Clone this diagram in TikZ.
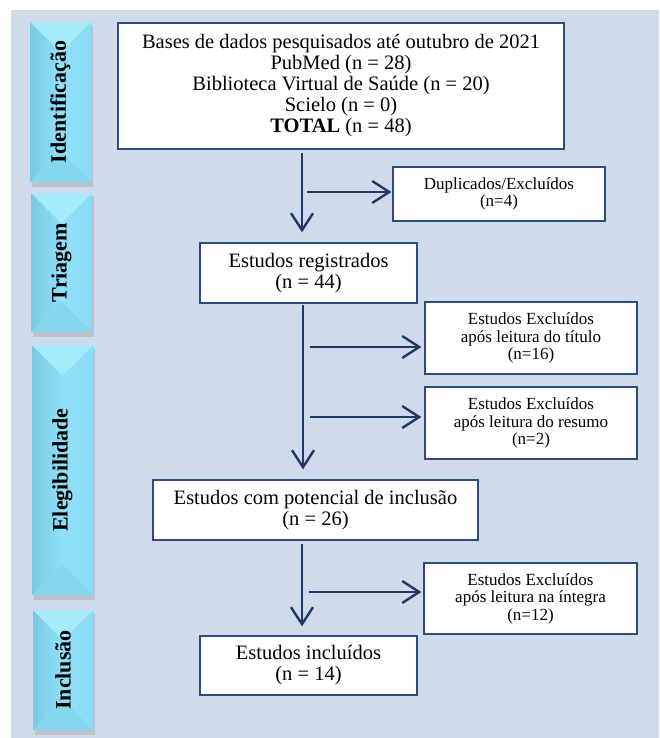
\documentclass[tikz,border=0pt]{standalone}
\usepackage{fontspec}
\setmainfont{Liberation Serif}
\usetikzlibrary{arrows.meta}
\definecolor{bgblue}{HTML}{CFDBEB}
\definecolor{navy}{HTML}{1F3864}
\definecolor{boxline}{HTML}{2F4B7C}
\definecolor{tabmain}{HTML}{8FE0F8}
\definecolor{tabtop}{HTML}{A6EBFC}
\definecolor{tabbot}{HTML}{86D6EE}
\definecolor{tabside}{HTML}{7AC9E4}
\tikzset{
  bigbox/.style={draw=boxline, line width=1.2pt, fill=white, align=center, inner sep=0pt,
    font=\fontsize{20.5}{21}\selectfont},
  smallbox/.style={draw=boxline, line width=1.2pt, fill=white, align=center, inner sep=0pt,
    font=\fontsize{17}{17.5}\selectfont},
  arr/.style={draw=navy, line width=2.4pt, -{Straight Barb[length=17pt,width=22pt,line width=2.4pt]}},
  tablabel/.style={rotate=90, font=\bfseries\fontsize{22}{24}\selectfont, text=black}
}
\newcommand{\phasetab}[5]{% name, x1, y1, x2, y2
  \fill[black!40, opacity=0.35] (#2+1.5,#3+3) rectangle (#4+1.5,#5+4.5);
  \fill[tabmain] (#2,#3) rectangle (#4,#5);
  \shade[left color=tabside, right color=tabmain] (#2,#3) -- ({(#2+#4)/2},{#3+(#4-#2)/2}) -- ({(#2+#4)/2},{#5-(#4-#2)/2}) -- (#2,#5) -- cycle;
  \shade[left color=tabmain, right color=tabmain!85!tabside] (#4,#3) -- ({(#2+#4)/2},{#3+(#4-#2)/2}) -- ({(#2+#4)/2},{#5-(#4-#2)/2}) -- (#4,#5) -- cycle;
  \fill[tabtop] (#2,#3) -- (#4,#3) -- ({(#2+#4)/2},{#3+(#4-#2)/2}) -- cycle;
  \fill[tabbot] (#2,#5) -- (#4,#5) -- ({(#2+#4)/2},{#5-(#4-#2)/2}) -- cycle;
  \node[tablabel] (tab-#1) at ({(#2+#4)/2},{(#3+#5)/2}) {#1};
}
\begin{document}
\begin{tikzpicture}[x=1pt,y=-1pt]
\useasboundingbox (0,0) rectangle (659,738);
\fill[bgblue] (11,10) rectangle (659,738);

\phasetab{Identificação}{30}{22}{91}{182}
\phasetab{Triagem}{31}{193}{92}{332}
\phasetab{Elegibilidade}{32}{345}{93}{595}
\phasetab{Inclusão}{33}{610}{93}{730}

\node[bigbox, minimum width=446pt, minimum height=126pt] (bases) at (341,86)
  {Bases de dados pesquisados até outubro de 2021\\PubMed (n = 28)\\Biblioteca Virtual de Saúde (n = 20)\\Scielo (n = 0)\\\textbf{TOTAL} (n = 48)};
\node[smallbox, minimum width=212pt, minimum height=54pt] (dup) at (499,194)
  {Duplicados/Excluídos\\(n=4)};
\node[bigbox, minimum width=217pt, minimum height=60pt] (reg) at (308.5,273)
  {Estudos registrados\\(n = 44)};
\node[smallbox, minimum width=212pt, minimum height=72pt] (tit) at (531,338)
  {Estudos Excluídos\\após leitura do título\\(n=16)};
\node[smallbox, minimum width=212pt, minimum height=72pt] (res) at (531,423)
  {Estudos Excluídos\\após leitura do resumo\\(n=2)};
\node[bigbox, minimum width=325pt, minimum height=60pt] (pot) at (315.5,510)
  {Estudos com potencial de inclusão\\(n = 26)};
\node[smallbox, minimum width=213pt, minimum height=71pt] (int) at (530.5,598.5)
  {Estudos Excluídos\\após leitura na íntegra\\(n=12)};
\node[bigbox, minimum width=217pt, minimum height=59pt] (inc) at (308.5,665.5)
  {Estudos incluídos\\(n = 14)};

\coordinate (t1) at (302,153);
\coordinate (t2) at (303,305);
\coordinate (t3) at (302,544);
\coordinate (b1) at (307,192);
\coordinate (b2) at (310,347);
\coordinate (b3) at (310,417);
\coordinate (b4) at (309,592);

\draw[arr, shorten >=10pt] (t1) -- (t1 |- reg.north);
\draw[arr, shorten >=10pt] (t2) -- (t2 |- pot.north);
\draw[arr, shorten >=9pt] (t3) -- (t3 |- inc.north);
\draw[arr, shorten >=1pt] (b1) -- (b1 -| dup.west);
\draw[arr, shorten >=3pt] (b2) -- (b2 -| tit.west);
\draw[arr, shorten >=3pt] (b3) -- (b3 -| res.west);
\draw[arr, shorten >=2pt] (b4) -- (b4 -| int.west);
\end{tikzpicture}
\end{document}
